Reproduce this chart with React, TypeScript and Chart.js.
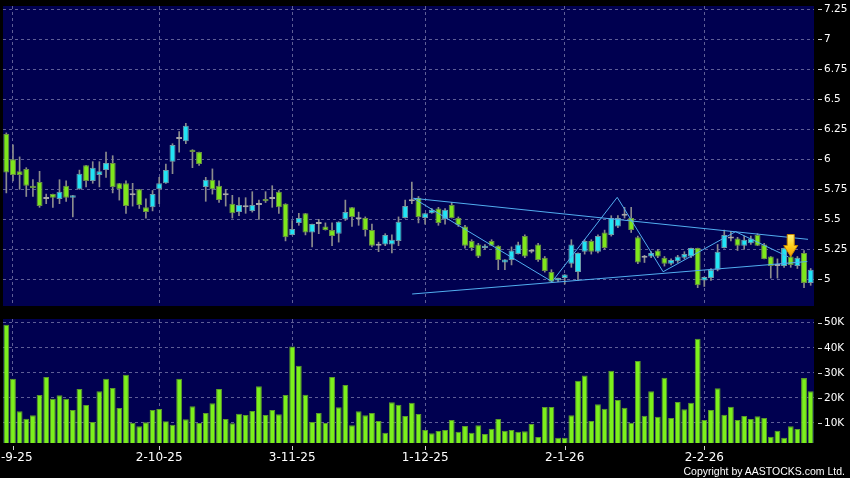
import React, { useEffect, useRef } from 'react';
import { Chart, registerables } from 'chart.js';

Chart.register(...registerables);

// ---- data ----
const OPEN = [
  6.21, 6.0, 5.9, 5.92, 5.78, 5.81, 5.67, 5.71, 5.67, 5.78,
  5.68, 5.75, 5.95, 5.82, 5.87, 5.91, 5.97, 5.8, 5.8, 5.7,
  5.75, 5.6, 5.6, 5.75, 5.8, 5.98, 6.17, 6.15, 6.08, 6.06,
  5.77, 5.83, 5.78, 5.7, 5.63, 5.56, 5.6, 5.57, 5.62, 5.67,
  5.67, 5.73, 5.63, 5.37, 5.47, 5.55, 5.39, 5.46, 5.44, 5.41,
  5.38, 5.5, 5.6, 5.5, 5.51, 5.41, 5.28, 5.29, 5.29, 5.32,
  5.51, 5.65, 5.68, 5.51, 5.55, 5.59, 5.5, 5.62, 5.51, 5.44,
  5.32, 5.29, 5.26, 5.32, 5.28, 5.14, 5.16, 5.21, 5.36, 5.23,
  5.29, 5.18, 5.06, 4.99, 5.01, 5.13, 5.06, 5.23, 5.32, 5.23,
  5.39, 5.37, 5.44, 5.53, 5.51, 5.35, 5.18, 5.19, 5.24, 5.18,
  5.13, 5.15, 5.18, 5.19, 5.26, 4.99, 5.01, 5.08, 5.26, 5.34,
  5.34, 5.28, 5.3, 5.37, 5.29, 5.19, 5.11, 5.11, 5.19, 5.11,
  5.22, 4.97,
];
const HIGH = [
  6.22, 6.12, 6.02, 5.93, 5.83, 5.9, 5.71, 5.71, 5.83, 5.82,
  5.7, 5.91, 5.95, 5.98, 5.98, 6.06, 6.03, 5.8, 5.82, 5.8,
  5.75, 5.67, 5.74, 5.85, 5.96, 6.13, 6.23, 6.3, 6.08, 6.06,
  5.85, 5.92, 5.82, 5.75, 5.7, 5.68, 5.68, 5.73, 5.66, 5.73,
  5.78, 5.74, 5.63, 5.49, 5.55, 5.55, 5.46, 5.5, 5.47, 5.47,
  5.48, 5.66, 5.6, 5.56, 5.52, 5.46, 5.31, 5.38, 5.37, 5.52,
  5.66, 5.81, 5.69, 5.55, 5.59, 5.6, 5.59, 5.64, 5.52, 5.45,
  5.33, 5.3, 5.29, 5.33, 5.28, 5.165, 5.27, 5.31, 5.37, 5.25,
  5.3, 5.19, 5.08, 5.01, 5.04, 5.33, 5.22, 5.33, 5.33, 5.37,
  5.41, 5.53, 5.53, 5.6, 5.6, 5.36, 5.2, 5.23, 5.25, 5.19,
  5.17, 5.2, 5.23, 5.26, 5.26, 5.02, 5.09, 5.29, 5.41, 5.4,
  5.35, 5.36, 5.36, 5.38, 5.3, 5.19, 5.17, 5.26, 5.2, 5.19,
  5.24, 5.09,
];
const LOW = [
  5.72, 5.82, 5.75, 5.69, 5.69, 5.6, 5.63, 5.6, 5.63, 5.65,
  5.52, 5.75, 5.77, 5.8, 5.77, 5.85, 5.72, 5.66, 5.55, 5.61,
  5.59, 5.51, 5.57, 5.63, 5.8, 5.88, 6.06, 6.13, 5.93, 5.95,
  5.65, 5.71, 5.64, 5.61, 5.51, 5.53, 5.55, 5.56, 5.5, 5.64,
  5.6, 5.55, 5.32, 5.37, 5.45, 5.37, 5.27, 5.38, 5.41, 5.28,
  5.31, 5.49, 5.44, 5.45, 5.36, 5.27, 5.23, 5.28, 5.22, 5.28,
  5.51, 5.63, 5.47, 5.46, 5.55, 5.45, 5.46, 5.51, 5.44, 5.26,
  5.24, 5.18, 5.25, 5.28, 5.08, 5.08, 5.12, 5.21, 5.18, 5.22,
  5.15, 5.06, 4.98, 4.98, 4.96, 5.1, 4.99, 5.21, 5.21, 5.22,
  5.25, 5.36, 5.43, 5.51, 5.39, 5.13, 5.14, 5.18, 5.18, 5.11,
  5.12, 5.14, 5.17, 5.18, 4.93, 4.94, 4.99, 5.07, 5.26, 5.32,
  5.24, 5.25, 5.29, 5.28, 5.17, 5.01, 5.01, 5.1, 5.1, 5.09,
  4.93, 4.95,
];
const CLOSE = [
  5.89, 5.87, 5.87, 5.78, 5.76, 5.61, 5.67, 5.68, 5.73, 5.68,
  5.7, 5.88, 5.82, 5.93, 5.9, 5.97, 5.77, 5.75, 5.61, 5.7,
  5.62, 5.56, 5.71, 5.8, 5.91, 6.12, 6.17, 6.28, 6.06, 5.96,
  5.83, 5.75, 5.66, 5.7, 5.55, 5.62, 5.6, 5.62, 5.62, 5.65,
  5.67, 5.6, 5.35, 5.42, 5.51, 5.39, 5.46, 5.46, 5.41, 5.36,
  5.48, 5.56, 5.52, 5.5, 5.41, 5.28, 5.28, 5.37, 5.33, 5.48,
  5.61, 5.65, 5.52, 5.55, 5.58, 5.47, 5.58, 5.51, 5.45, 5.28,
  5.26, 5.19, 5.28, 5.28, 5.16, 5.165, 5.24, 5.29, 5.19, 5.23,
  5.16, 5.07, 4.98, 5.01, 5.04, 5.29, 5.22, 5.32, 5.23, 5.36,
  5.26, 5.51, 5.51, 5.53, 5.41, 5.14, 5.18, 5.22, 5.19, 5.13,
  5.16, 5.19, 5.21, 5.26, 4.95, 5.02, 5.08, 5.23, 5.37, 5.34,
  5.28, 5.33, 5.34, 5.28, 5.17, 5.11, 5.11, 5.26, 5.12, 5.18,
  4.97, 5.08,
];
const VOLUME = [
  49200, 27600, 14700, 11700, 13100, 21200, 28300, 19700, 21100, 19700,
  15200, 23600, 17200, 10400, 22700, 27600, 24000, 16000, 29200, 10100,
  8700, 10300, 15200, 15600, 10700, 9300, 27600, 11500, 16700, 10000,
  14000, 17900, 23600, 11600, 9900, 13700, 13200, 14800, 24700, 13200,
  15200, 13500, 21200, 40500, 32800, 21300, 10400, 14000, 10000, 28300,
  16300, 25200, 9100, 14700, 13100, 14000, 10800, 6100, 18300, 17300,
  12800, 18100, 13600, 7200, 5900, 6800, 7200, 11200, 6500, 8800,
  6100, 9100, 5600, 7700, 11600, 6900, 7200, 6500, 6700, 9600,
  4400, 16400, 16400, 4100, 4100, 13100, 26800, 28900, 10800, 17500,
  15700, 30800, 19200, 16100, 10100, 34700, 12900, 22700, 12500, 28000,
  12000, 18400, 15500, 18100, 43600, 11200, 15200, 23900, 13300, 16500,
  11200, 12800, 11600, 12700, 12000, 4500, 6900, 4100, 8700, 7600,
  27900, 22700,
];
const X_TICK_INDEX = [1, 23, 43, 63, 84, 105];
const X_TICK_LABELS = ['1-9-25', '2-10-25', '3-11-25', '1-12-25', '2-1-26', '2-2-26'];
const PRICE_TICKS = [5, 5.25, 5.5, 5.75, 6, 6.25, 6.5, 6.75, 7, 7.25];
const PRICE_TICK_LABELS = ['5', '5.25', '5.5', '5.75', '6', '6.25', '6.5', '6.75', '7', '7.25'];
const VOLUME_TICKS = [10000, 20000, 30000, 40000, 50000];
const VOLUME_TICK_LABELS = ['10K', '20K', '30K', '40K', '50K'];
// trend lines: [candle index, price] vertices
const UPPER_LINE = [{ x: 61.25, y: 5.675 }, { x: 120.6, y: 5.333 }];
const LOWER_LINE = [{ x: 61.05, y: 4.8775 }, { x: 120.5, y: 5.148 }];
const ZIGZAG = [
  { x: 61.25, y: 5.675 }, { x: 82.1, y: 4.98 }, { x: 91.9, y: 5.683 },
  { x: 98.8, y: 5.063 }, { x: 109.7, y: 5.397 }, { x: 117.6, y: 5.188 },
];
const TREND_LINES = [UPPER_LINE, LOWER_LINE, ZIGZAG];
const ARROW_INDEX = 118;
const ARROW_PRICE = 5.19;

// ---- styles ----
const NAVY = '#000050';
const GRID = '#5e5e96';
const TEXT = '#ffffff';
const UP_FILL = '#22e4f4';
const UP_EDGE = '#6f9aa8';
const DOWN_FILL = '#7ee61c';
const DOWN_EDGE = '#6a8f45';
const DOJI = '#a8a8a8';
const WICK = '#8c8c8c';
const VOL_FILL = '#7cf01c';
const VOL_EDGE = '#5c9a2a';
const LINE = '#52aef0';

const panelBg = {
  id: 'panelBg',
  beforeDraw(chart: any) {
    const { ctx, chartArea: a } = chart;
    ctx.save();
    ctx.fillStyle = NAVY;
    ctx.fillRect(a.left, a.top, a.right - a.left, a.bottom - a.top);
    ctx.restore();
  },
};

const makeTickMarks = (withX: boolean) => ({
  id: 'tickMarks',
  afterDraw(chart: any) {
    const { ctx, chartArea: a } = chart;
    const ys = chart.scales.y;
    ctx.save();
    ctx.strokeStyle = '#d0d0d0';
    ctx.lineWidth = 1;
    ctx.beginPath();
    ys.ticks.forEach((t: any) => {
      const py = Math.round(ys.getPixelForValue(t.value)) + 0.5;
      ctx.moveTo(a.right + 4, py);
      ctx.lineTo(a.right + 8, py);
    });
    if (withX) {
      const xs = chart.scales.x;
      xs.ticks.forEach((t: any) => {
        const px = Math.round(xs.getPixelForValue(t.value)) + 0.5;
        ctx.moveTo(px, a.bottom + 3);
        ctx.lineTo(px, a.bottom + 7);
      });
    }
    ctx.stroke();
    ctx.restore();
  },
});

const trendPlugin = {
  id: 'trend',
  afterDatasetsDraw(chart: any) {
    const { ctx, chartArea: a } = chart;
    const xs = chart.scales.x;
    const ys = chart.scales.y;
    ctx.save();
    ctx.beginPath();
    ctx.rect(a.left, a.top, a.right - a.left, a.bottom - a.top);
    ctx.clip();
    ctx.strokeStyle = LINE;
    ctx.lineWidth = 1;
    TREND_LINES.forEach((pts) => {
      ctx.beginPath();
      pts.forEach((p, i) => {
        const px = xs.getPixelForValue(p.x);
        const py = ys.getPixelForValue(p.y);
        if (i === 0) ctx.moveTo(px, py);
        else ctx.lineTo(px, py);
      });
      ctx.stroke();
    });
    ctx.restore();
  },
};

const arrowPlugin = {
  id: 'arrow',
  afterDatasetsDraw(chart: any) {
    const { ctx } = chart;
    const cx = chart.scales.x.getPixelForValue(ARROW_INDEX);
    const tip = chart.scales.y.getPixelForValue(ARROW_PRICE);
    const g = ctx.createLinearGradient(0, tip - 22, 0, tip);
    g.addColorStop(0, '#fff27a');
    g.addColorStop(0.5, '#ffd21e');
    g.addColorStop(1, '#f39a00');
    ctx.save();
    ctx.beginPath();
    ctx.moveTo(cx - 3.5, tip - 22);
    ctx.lineTo(cx + 3.5, tip - 22);
    ctx.lineTo(cx + 3.5, tip - 11);
    ctx.lineTo(cx + 7, tip - 11);
    ctx.lineTo(cx, tip);
    ctx.lineTo(cx - 7, tip - 11);
    ctx.lineTo(cx - 3.5, tip - 11);
    ctx.closePath();
    ctx.fillStyle = g;
    ctx.fill();
    ctx.strokeStyle = '#c98600';
    ctx.lineWidth = 1;
    ctx.stroke();
    ctx.restore();
  },
};

const xTickLabel = (v: any) => {
  const k = X_TICK_INDEX.indexOf(v);
  return k >= 0 ? X_TICK_LABELS[k] : '';
};

const fitY = (a: any) => {
  a.width = 36;
  a.paddingTop = 0;
  a.paddingBottom = 0;
};

export default function App() {
  const priceRef = useRef<HTMLCanvasElement>(null);
  const volRef = useRef<HTMLCanvasElement>(null);

  useEffect(() => {
    document.body.style.margin = '0';
    document.body.style.background = '#000';
    const labels = OPEN.map((_, i) => String(i));
    const kind = OPEN.map((o, i) => (CLOSE[i] > o ? 1 : CLOSE[i] < o ? -1 : 0));
    const fill = kind.map((k) => (k > 0 ? UP_FILL : k < 0 ? DOWN_FILL : DOJI));
    const edge = kind.map((k) => (k > 0 ? UP_EDGE : k < 0 ? DOWN_EDGE : DOJI));

    const xGrid = {
      color: GRID,
      drawTicks: false,
      offset: false,
      lineWidth: 1,
    };

    const price = new Chart(priceRef.current as HTMLCanvasElement, {
      type: 'bar',
      data: {
        labels,
        datasets: [
          {
            data: LOW.map((l, i) => [l, HIGH[i]]),
            backgroundColor: WICK,
            borderWidth: 0,
            barThickness: 1,
            grouped: false,
            order: 3,
          } as any,
          {
            data: OPEN.map((o, i) => [o, CLOSE[i]]),
            backgroundColor: fill,
            borderColor: edge,
            borderWidth: 1,
            borderSkipped: false,
            barPercentage: 0.9,
            categoryPercentage: 1,
            minBarLength: 2,
            grouped: false,
            order: 2,
          } as any,
        ],
      },
      options: {
        responsive: false,
        animation: false,
        events: [],
        layout: { padding: { left: 3, top: 6, right: 0, bottom: 6 } },
        plugins: { legend: { display: false }, tooltip: { enabled: false } },
        scales: {
          x: {
            type: 'category',
            offset: true,
            afterBuildTicks: (a: any) => {
              a.ticks = X_TICK_INDEX.map((v) => ({ value: v }));
            },
            afterFit: (a: any) => {
              a.height = 0;
              a.paddingLeft = 0;
              a.paddingRight = 0;
            },
            ticks: { display: false, autoSkip: false },
            grid: xGrid,
            border: { display: false, dash: [3, 3] },
          },
          y: {
            position: 'right',
            min: 4.7775,
            max: 7.2775,
            afterBuildTicks: (a: any) => {
              a.ticks = PRICE_TICKS.map((v) => ({ value: v }));
            },
            afterFit: fitY,
            ticks: {
              padding: 10,
              color: TEXT,
              font: { family: 'DejaVu Sans', size: 10.5 },
              callback: (v: any) => PRICE_TICK_LABELS[PRICE_TICKS.indexOf(v)] ?? '',
            },
            grid: { color: GRID, drawTicks: false, lineWidth: 1 },
            border: { display: false, dash: [3, 3] },
          },
        },
      } as any,
      plugins: [panelBg, makeTickMarks(false), trendPlugin, arrowPlugin],
    });

    const vol = new Chart(volRef.current as HTMLCanvasElement, {
      type: 'bar',
      data: {
        labels,
        datasets: [
          {
            data: VOLUME,
            backgroundColor: VOL_FILL,
            borderColor: VOL_EDGE,
            borderWidth: 1,
            borderSkipped: false,
            barPercentage: 0.88,
            categoryPercentage: 1,
          } as any,
        ],
      },
      options: {
        responsive: false,
        animation: false,
        events: [],
        layout: { padding: { left: 3, top: 7, right: 0, bottom: 0 } },
        plugins: { legend: { display: false }, tooltip: { enabled: false } },
        scales: {
          x: {
            type: 'category',
            offset: true,
            afterBuildTicks: (a: any) => {
              a.ticks = X_TICK_INDEX.map((v) => ({ value: v }));
            },
            afterFit: (a: any) => {
              a.height = 35;
              a.paddingLeft = 0;
              a.paddingRight = 0;
            },
            ticks: {
              autoSkip: false,
              maxRotation: 0,
              padding: 8,
              color: TEXT,
              font: { family: 'DejaVu Sans', size: 12 },
              callback: xTickLabel,
            },
            grid: xGrid,
            border: { display: false, dash: [3, 3] },
          },
          y: {
            position: 'right',
            min: 2000,
            max: 51500,
            afterBuildTicks: (a: any) => {
              a.ticks = VOLUME_TICKS.map((v) => ({ value: v }));
            },
            afterFit: fitY,
            ticks: {
              padding: 10,
              color: TEXT,
              font: { family: 'DejaVu Sans', size: 10.5 },
              callback: (v: any) => VOLUME_TICK_LABELS[VOLUME_TICKS.indexOf(v)] ?? '',
            },
            grid: { color: GRID, drawTicks: false, lineWidth: 1 },
            border: { display: false, dash: [3, 3] },
          },
        },
      } as any,
      plugins: [panelBg, makeTickMarks(true)],
    });

    return () => {
      price.destroy();
      vol.destroy();
    };
  }, []);

  return (
    <div
      style={{
        position: 'absolute',
        left: 0,
        top: 0,
        width: 850,
        height: 478,
        background: '#000',
        overflow: 'hidden',
      }}
    >
      <canvas ref={priceRef} width={850} height={312} style={{ position: 'absolute', left: 0, top: 0 }} />
      <canvas ref={volRef} width={850} height={166} style={{ position: 'absolute', left: 0, top: 312 }} />
      <div
        style={{
          position: 'absolute',
          right: 5,
          top: 464,
          color: TEXT,
          font: "10.5px 'Liberation Sans', sans-serif",
          lineHeight: '14px',
          whiteSpace: 'nowrap',
        }}
      >
        Copyright by AASTOCKS.com Ltd.
      </div>
    </div>
  );
}
